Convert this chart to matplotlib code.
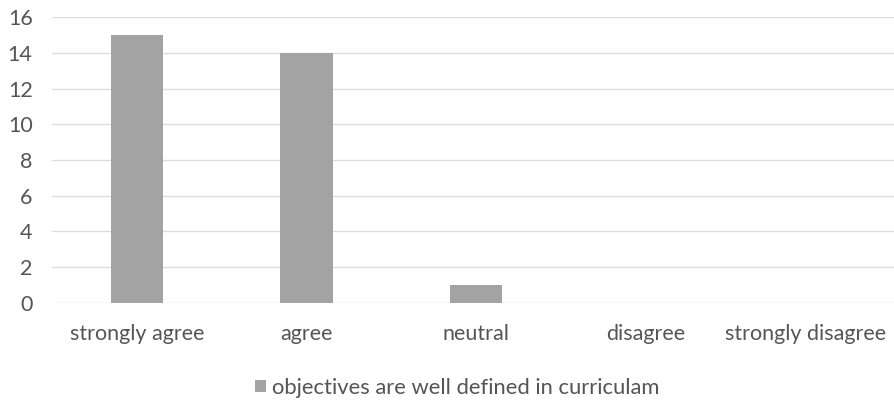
import matplotlib
matplotlib.use("Agg")
import matplotlib.pyplot as plt
from matplotlib.patches import Patch
from matplotlib.transforms import ScaledTranslation

categories = ["strongly agree", "agree", "neutral", "disagree", "strongly disagree"]
values = [15, 14, 1, 0, 0]
yticks = [0, 2, 4, 6, 8, 10, 12, 14, 16]
series_name = "objectives are well defined in curriculam"

plt.rcParams['font.family'] = ['Lato', 'DejaVu Sans']
text_color = "#555555"
bar_color = "#a3a3a3"
fs = 15.5

fig = plt.figure(figsize=(8.95, 4.01), dpi=100)
ax = fig.add_axes([0.0581, 0.2444, 0.9475, 0.7132])
x = list(range(len(categories)))
ax.bar(x, values, width=0.31, color=bar_color, zorder=3)
ax.set_xlim(-0.5, len(categories) - 0.5)
ax.set_ylim(0, 16)
ax.set_yticks(yticks)
ax.set_xticks(x)
ax.set_xticklabels(categories)
ax.tick_params(axis='both', length=0, labelsize=fs, colors=text_color)
ax.tick_params(axis='x', pad=15)
ax.tick_params(axis='y', pad=14)
ax.grid(axis='y', color="#dddddd", linewidth=1, zorder=0)
for s in ax.spines.values():
    s.set_visible(False)

# keep the last category label inside the figure, as the original does
last = ax.get_xticklabels()[-1]
last.set_transform(last.get_transform() + ScaledTranslation(-10 / 100, 0, fig.dpi_scale_trans))

handles = [Patch(facecolor=bar_color, edgecolor='none')]
fig.legend(handles, [series_name], loc='center', bbox_to_anchor=(0.511, 0.033),
           frameon=False, fontsize=15.8, handlelength=0.5, handleheight=0.5,
           handletextpad=0.3, labelcolor=text_color, borderpad=0, borderaxespad=0)

fig.savefig("out.png", dpi=100)
